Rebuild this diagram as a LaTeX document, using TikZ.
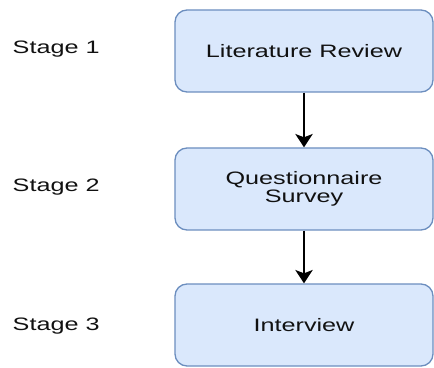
\documentclass[tikz,border=0pt]{standalone}
\usepackage{fontspec}
\setmainfont[FakeStretch=1.4]{Liberation Sans}
\usepackage{xcolor}
\usepackage{tikz}
\usetikzlibrary{arrows.meta, positioning}
\definecolor{sfill}{HTML}{DAE8FC}
\definecolor{sdraw}{HTML}{6C8EBF}
\definecolor{stext}{HTML}{111111}

\begin{document}
\begin{tikzpicture}[x=0.75pt, y=0.75pt,
  box/.style={draw=sdraw, fill=sfill, line width=1pt, rounded corners=9pt,
    minimum width=193.5pt, minimum height=61.5pt, align=center,
    font=\fontsize{13.5}{16}\selectfont, text=stext},
  stagelabel/.style={anchor=west, font=\fontsize{13.5}{16}\selectfont, text=stext},
  flow/.style={line width=1.5pt, -{Stealth[length=10pt, width=13pt, inset=2.5pt]}}]
\useasboundingbox (0,0) rectangle (434,367);
% stages on the right
\node[box] (lit) at (304,316) {Literature Review};
\node[box] (survey) at (304,178) {Questionnaire\\[-2pt]Survey};
\node[box] (interview) at (304,42) {Interview};
% labels on the left
\node[stagelabel] (s1) at (8,318) {Stage 1};
\node[stagelabel] (s2) at (8,180) {Stage 2};
\node[stagelabel] (s3) at (8,41) {Stage 3};
\draw[flow] (lit) -- (survey);
\draw[flow] (survey) -- (interview);
\end{tikzpicture}
\end{document}
